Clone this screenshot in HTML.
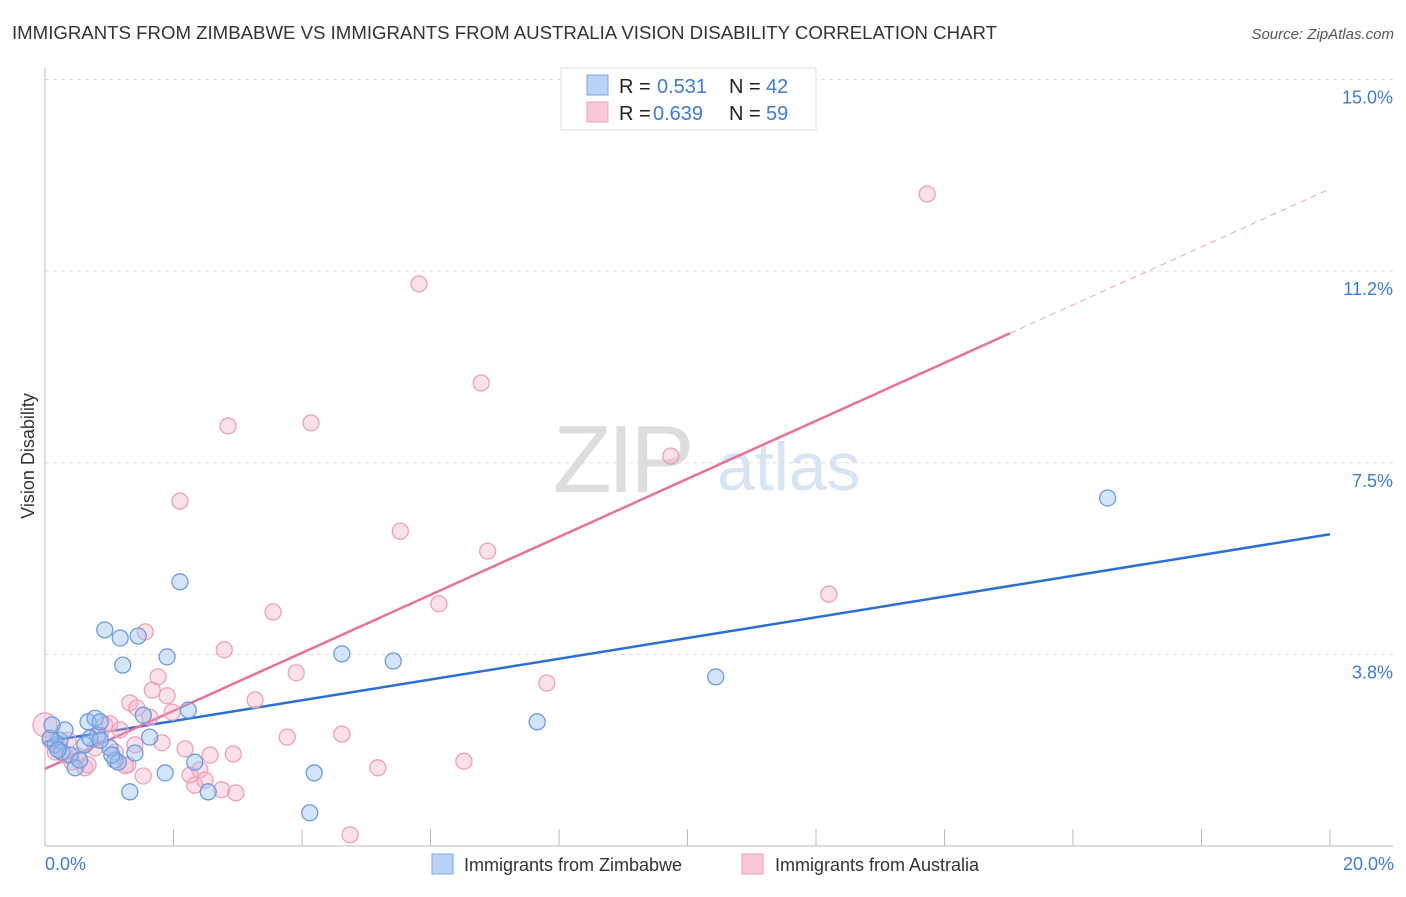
<!DOCTYPE html>
<html><head><meta charset="utf-8"><style>
body{margin:0;background:#fff;font-family:"Liberation Sans",sans-serif}
svg text{font-family:"Liberation Sans",sans-serif}
</style></head><body>
<svg width="1406" height="892" viewBox="0 0 1406 892" xmlns="http://www.w3.org/2000/svg">
<text x="12" y="39" font-size="18" fill="#333" textLength="985" lengthAdjust="spacingAndGlyphs">IMMIGRANTS FROM ZIMBABWE VS IMMIGRANTS FROM AUSTRALIA VISION DISABILITY CORRELATION CHART</text>
<text x="1394" y="39" font-size="15" fill="#555" text-anchor="end" font-style="italic">Source: ZipAtlas.com</text>
<g>
<text x="553" y="492" font-size="96" fill="#ddd" font-family="Liberation Serif" letter-spacing="-4">ZIP</text>
<text x="717" y="490" font-size="68" fill="#d6e4f5">atlas</text>
</g>
<g id="grid"></g><g id="axes"></g><g id="lines"></g><g id="pts"></g>
<text transform="translate(34,456) rotate(-90)" font-size="18" fill="#333" text-anchor="middle">Vision Disability</text>
<text x="45" y="870" font-size="18" fill="#3d7bd9">0.0%</text>
<text x="1394" y="870" font-size="18" fill="#3d7bd9" text-anchor="end">20.0%</text>
<g>
<rect x="561" y="68" width="255" height="62" fill="#fff" stroke="#ddd"/>
<rect x="587" y="75" width="21" height="20" fill="#b9d3f5" stroke="#7aa6e0"/>
<rect x="587" y="102" width="21" height="20" fill="#f9c8d6" stroke="#eea0b8"/>
<text x="619" y="93" font-size="20" fill="#222">R =</text>
<text x="657" y="93" font-size="20" fill="#3d7bd9">0.531</text>
<text x="729" y="93" font-size="20" fill="#222">N =</text>
<text x="766" y="93" font-size="20" fill="#3d7bd9">42</text>
<text x="619" y="120" font-size="20" fill="#222">R =</text>
<text x="653" y="120" font-size="20" fill="#3d7bd9">0.639</text>
<text x="729" y="120" font-size="20" fill="#222">N =</text>
<text x="766" y="120" font-size="20" fill="#3d7bd9">59</text>
</g>
<g>
<rect x="432" y="854" width="21" height="20" fill="#b9d3f5" stroke="#7aa6e0"/>
<text x="464" y="871" font-size="18" fill="#333">Immigrants from Zimbabwe</text>
<rect x="742" y="854" width="21" height="20" fill="#f9c8d6" stroke="#eea0b8"/>
<text x="775" y="871" font-size="18" fill="#333">Immigrants from Australia</text>
</g>
</svg>
<script>
const yTicks=[3.75,7.5,11.25,15];
const yTickLabels=["3.8%","7.5%","11.2%","15.0%"];
const xTicks=[2,4,6,8,10,12,14,16,18,20];
const blueX=[0.16,0.23,0.08,0.31,0.26,0.39,0.47,0.54,0.67,0.78,0.82,0.86,0.93,1.01,1.09,1.14,1.17,1.21,1.32,1.40,1.45,1.53,1.63,1.87,1.90,2.10,2.23,2.33,2.54,4.12,4.19,4.62,5.42,7.66,10.44,16.54,0.11,0.20,0.62,0.70,0.86,1.04];
const blueY=[1.98,2.07,2.11,2.27,1.84,1.78,1.53,1.68,2.43,2.50,2.17,2.43,4.23,1.92,1.68,1.64,4.07,3.54,1.06,1.82,4.11,2.56,2.13,1.43,3.70,5.17,2.66,1.64,1.06,0.65,1.43,3.76,3.62,2.43,3.31,6.81,2.37,1.88,1.98,2.11,2.07,1.78];
const pinkX=[0,0.16,0.23,0.31,0.42,0.51,0.62,0.67,0.78,0.86,0.93,1.01,1.09,1.25,1.29,1.32,1.43,1.53,1.56,1.63,1.67,1.76,1.82,1.90,1.98,2.10,2.18,2.26,2.33,2.41,2.49,2.57,2.75,2.79,2.85,2.93,2.97,3.27,3.55,3.77,3.91,4.14,4.62,4.75,5.18,5.53,5.82,6.13,6.52,6.79,6.89,7.81,9.74,12.20,13.73,0.08,0.36,1.17,1.40];
const pinkY=[2.37,1.84,1.92,1.78,1.64,1.76,1.53,1.59,1.92,2.17,2.37,2.39,1.84,1.57,1.59,2.80,2.70,1.37,4.19,2.52,3.05,3.31,2.02,2.94,2.62,6.75,1.90,1.39,1.19,1.49,1.29,1.78,1.10,3.84,8.22,1.80,1.04,2.86,4.58,2.13,3.39,8.28,2.19,0.22,1.53,6.16,11.0,4.74,1.66,9.06,5.77,3.19,7.63,4.93,12.76,2.07,2.07,2.27,1.98];
const blueTrend=[2.04,6.10];
const pinkTrend=[1.51,12.86];
const pinkSolidEnd=15.02;
const NS="http://www.w3.org/2000/svg";
const sx=v=>45+v/20*1285, sy=v=>846-v*51.1;
function mk(p,t,a){const e=document.createElementNS(NS,t);for(const k in a)e.setAttribute(k,a[k]);document.getElementById(p).appendChild(e);return e;}
yTicks.forEach((t,i)=>{
 const g=mk('grid','line',{x1:45,x2:1393,y1:sy(t),y2:sy(t),stroke:'#ddd','stroke-dasharray':'4,4'});
 
 
 const tx=mk('grid','text',{x:1393,y:sy(t)+24,'font-size':18,fill:'#3d7bd9','text-anchor':'end'});
 tx.textContent=yTickLabels[i];
 
 
});
let a=mk('axes','line',{x1:45,x2:45,y1:68,y2:846,stroke:'#bbb'});


a=mk('axes','line',{x1:45,x2:1393,y1:846,y2:846,stroke:'#bbb'});


xTicks.forEach(t=>{const l=mk('axes','line',{x1:sx(t),x2:sx(t),y1:829,y2:846,stroke:'#bbb'});
 
 });
function pts(X,Y,fill,stroke,name){X.forEach((x,i)=>{const c=mk('pts','circle',{cx:sx(x),cy:sy(Y[i]),r:(x===0?12:8),fill:fill,stroke:stroke,'stroke-width':1.3});
 
 });}
pts(pinkX,pinkY,'rgba(245,170,195,0.35)','#eea0b8','australia-point');
pts(blueX,blueY,'rgba(150,190,240,0.4)','#6a9be0','zimbabwe-point');
let ln=mk('lines','line',{x1:sx(0),y1:sy(blueTrend[0]),x2:sx(20),y2:sy(blueTrend[1]),stroke:'#2a6fd6','stroke-width':2.5});


const pAt=x=>pinkTrend[0]+(pinkTrend[1]-pinkTrend[0])*x/20;
ln=mk('lines','line',{x1:sx(0),y1:sy(pinkTrend[0]),x2:sx(pinkSolidEnd),y2:sy(pAt(pinkSolidEnd)),stroke:'#e8709a','stroke-width':2.5});


ln=mk('lines','line',{x1:sx(pinkSolidEnd),y1:sy(pAt(pinkSolidEnd)),x2:sx(20),y2:sy(pinkTrend[1]),stroke:'#eea0b8','stroke-width':1,'stroke-dasharray':'6,5'});


</script>
</body></html>
